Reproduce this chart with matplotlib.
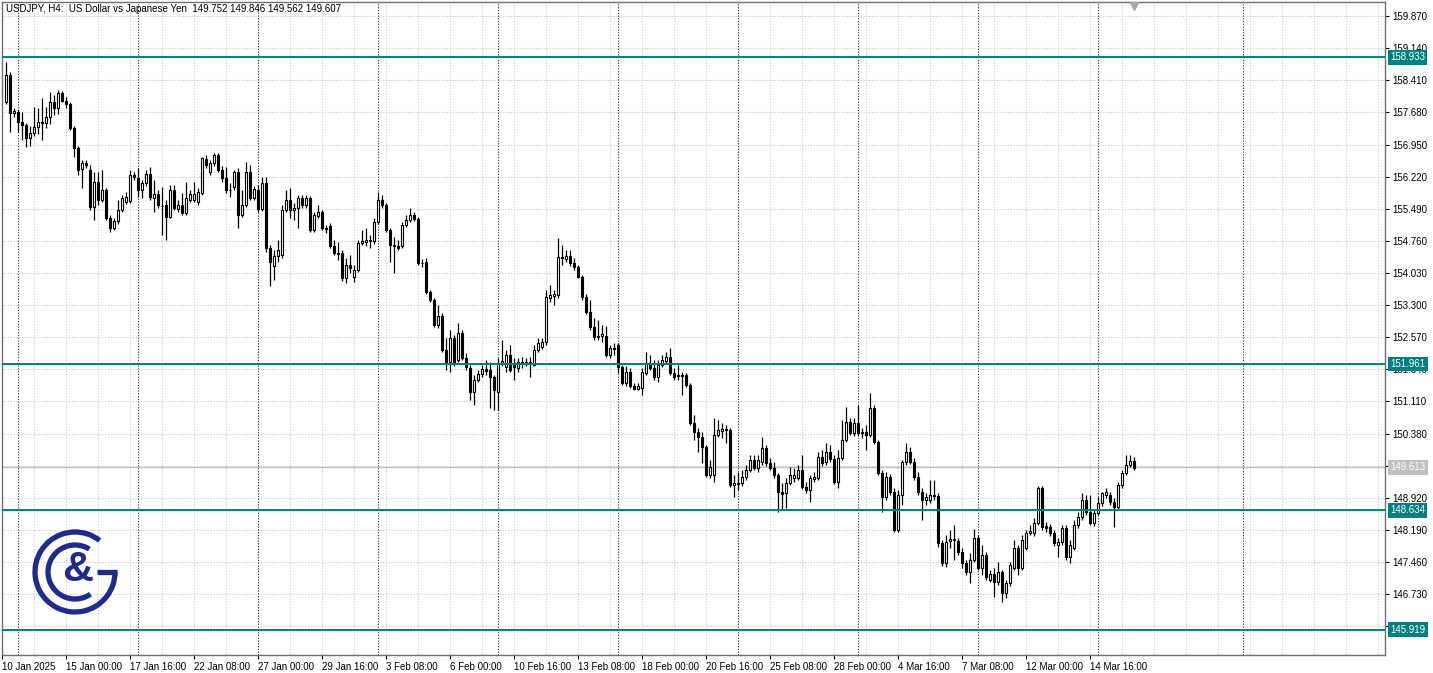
import numpy as np
import matplotlib.pyplot as plt
from matplotlib.patches import Rectangle, Arc

plt.rcParams['font.family'] = ['Liberation Sans', 'DejaVu Sans']

# USDJPY H4 candles, 10 Jan 2025 12:00 onwards
opens = [
    157.92, 158.53, 157.66, 157.69, 157.46, 157.39, 157.10, 157.21, 157.35, 157.46,
    157.44, 157.58, 157.92, 157.78, 158.12, 157.94, 157.87, 157.32, 156.87, 156.39,
    156.53, 156.37, 155.53, 156.10, 155.69, 155.92, 155.28, 155.05, 155.21, 155.46,
    155.64, 155.66, 156.26, 156.19, 155.92, 156.07, 156.28, 155.73, 155.82, 155.55,
    155.57, 155.30, 155.92, 155.48, 155.57, 155.39, 155.69, 155.69, 155.64, 155.85,
    156.62, 156.32, 156.53, 156.71, 156.37, 156.19, 155.92, 155.98, 156.32, 155.35,
    155.57, 156.32, 155.73, 155.92, 155.48, 156.07, 154.60, 154.19, 154.41, 154.44,
    155.46, 155.69, 155.46, 155.51, 155.73, 155.57, 155.73, 155.01, 155.32, 155.41,
    155.05, 155.10, 154.64, 154.48, 154.48, 153.91, 154.21, 153.94, 154.10, 154.71,
    154.73, 154.78, 154.76, 155.19, 155.69, 155.57, 155.01, 154.67, 154.64, 154.64,
    155.12, 155.23, 155.35, 155.26, 154.26, 154.28, 153.60, 153.41, 152.85, 153.05,
    152.28, 152.00, 152.55, 152.05, 152.66, 152.10, 151.87, 151.32, 151.60, 151.73,
    151.85, 151.82, 151.66, 151.32, 151.98, 151.89, 152.16, 151.98, 151.87, 152.00,
    151.98, 152.00, 151.94, 152.28, 152.35, 152.46, 153.46, 153.51, 153.53, 154.39,
    154.35, 154.41, 154.26, 154.17, 153.94, 153.48, 153.14, 152.80, 152.57, 152.60,
    152.60, 152.16, 152.32, 152.39, 151.89, 151.53, 151.78, 151.46, 151.39, 151.41,
    151.75, 151.98, 151.87, 151.66, 151.94, 152.03, 152.12, 151.75, 151.69, 151.71,
    151.71, 151.48, 150.62, 150.41, 150.30, 150.07, 149.44, 149.44, 150.35, 150.44,
    150.48, 150.46, 149.21, 149.25, 149.25, 149.39, 149.55, 149.78, 149.60, 149.73,
    150.05, 149.71, 149.60, 149.44, 149.05, 149.03, 149.25, 149.37, 149.37, 149.55,
    149.16, 149.10, 149.35, 149.37, 149.85, 149.73, 149.96, 149.80, 149.28, 149.82,
    150.23, 150.64, 150.39, 150.62, 150.39, 150.41, 150.35, 150.96, 150.19, 149.48,
    148.94, 149.39, 149.05, 148.19, 148.98, 149.73, 149.96, 149.73, 149.39, 149.05,
    148.87, 148.87, 148.98, 148.96, 147.89, 147.44, 147.94, 147.96, 147.94, 147.69,
    147.44, 147.23, 147.50, 148.00, 147.32, 147.62, 147.05, 147.19, 147.00, 147.23,
    146.75, 146.98, 147.32, 147.78, 147.32, 147.78, 148.12, 148.12, 148.35, 149.14,
    148.28, 148.25, 148.12, 147.85, 147.91, 148.23, 147.57, 147.78, 148.30, 148.48,
    148.87, 148.60, 148.35, 148.57, 148.80, 148.98, 148.98, 148.82, 148.71, 149.21,
    149.48, 149.66, 149.752,
]
highs = [
    158.82, 158.60, 157.78, 157.73, 157.69, 157.44, 157.37, 157.80, 157.78, 158.01,
    157.80, 158.14, 158.07, 158.19, 158.17, 158.03, 157.92, 157.37, 156.92, 156.60,
    156.60, 156.48, 156.32, 156.32, 156.37, 155.96, 155.35, 155.28, 155.69, 155.80,
    155.87, 156.37, 156.32, 156.42, 156.14, 156.37, 156.44, 156.14, 155.92, 155.98,
    155.69, 156.03, 156.03, 155.69, 155.85, 156.10, 155.92, 156.10, 155.96, 156.67,
    156.71, 156.60, 156.76, 156.76, 156.46, 156.44, 156.07, 156.37, 156.42, 155.92,
    156.55, 156.48, 156.01, 156.03, 156.21, 156.21, 154.67, 154.55, 154.78, 155.57,
    155.92, 155.96, 155.62, 155.80, 155.80, 155.80, 155.78, 155.41, 155.57, 155.46,
    155.12, 155.17, 154.78, 154.73, 154.55, 154.37, 154.44, 154.21, 154.78, 155.01,
    155.05, 154.89, 155.28, 155.87, 155.80, 155.62, 155.05, 154.85, 154.78, 155.19,
    155.35, 155.51, 155.41, 155.30, 154.35, 154.37, 153.64, 153.46, 153.30, 153.12,
    152.55, 152.73, 152.62, 152.89, 152.73, 152.21, 151.94, 151.71, 151.82, 151.94,
    152.05, 152.00, 151.71, 152.10, 152.50, 152.28, 152.39, 152.10, 152.10, 152.12,
    152.10, 152.12, 152.39, 152.55, 152.55, 153.64, 153.76, 153.64, 154.82, 154.66,
    154.55, 154.55, 154.37, 154.21, 153.98, 153.55, 153.41, 153.00, 152.96, 152.85,
    152.82, 152.39, 152.44, 152.44, 151.94, 151.91, 151.87, 151.53, 151.53, 151.87,
    152.23, 152.16, 152.05, 152.05, 152.16, 152.23, 152.32, 151.87, 151.94, 151.78,
    151.75, 151.53, 150.80, 150.50, 150.41, 150.12, 149.78, 150.73, 150.69, 150.62,
    150.57, 150.50, 149.44, 149.50, 149.55, 149.66, 149.89, 149.89, 149.89, 150.30,
    150.12, 149.82, 149.73, 149.48, 149.25, 149.37, 149.62, 149.60, 149.66, 149.89,
    149.28, 149.44, 149.50, 149.96, 150.00, 150.16, 150.12, 149.89, 150.00, 150.69,
    150.98, 150.73, 150.73, 151.03, 150.50, 150.57, 151.30, 151.03, 150.23, 149.55,
    149.50, 149.46, 149.14, 149.10, 149.78, 150.16, 150.07, 149.82, 149.50, 149.14,
    149.03, 149.32, 149.32, 149.03, 147.96, 148.07, 148.19, 148.30, 148.00, 147.78,
    147.50, 147.66, 148.21, 148.07, 147.85, 147.69, 147.28, 147.32, 147.46, 147.28,
    147.05, 147.46, 147.96, 147.85, 148.07, 148.19, 148.30, 148.46, 149.19, 149.19,
    148.37, 148.32, 148.19, 148.00, 148.30, 148.30, 147.96, 148.41, 148.60, 149.03,
    148.98, 148.98, 148.64, 148.94, 149.05, 149.14, 149.05, 148.91, 149.28, 149.55,
    149.89, 149.89, 149.846,
]
lows = [
    157.87, 157.23, 157.58, 157.23, 157.05, 156.89, 156.92, 157.14, 157.19, 157.05,
    157.32, 157.41, 157.62, 157.64, 157.92, 157.78, 157.28, 156.67, 156.26, 155.96,
    156.41, 155.46, 155.23, 155.57, 155.64, 155.23, 154.96, 155.01, 155.14, 155.41,
    155.60, 155.62, 156.14, 155.76, 155.73, 156.01, 155.69, 155.41, 155.51, 154.89,
    154.78, 155.28, 155.46, 155.41, 155.35, 155.35, 155.64, 155.64, 155.57, 155.80,
    156.41, 156.26, 156.46, 156.32, 156.10, 155.85, 155.76, 155.92, 155.05, 155.30,
    155.53, 155.69, 155.69, 155.41, 155.44, 154.51, 153.73, 153.87, 154.28, 154.37,
    155.41, 155.28, 155.23, 155.05, 155.51, 155.51, 154.96, 154.96, 155.28, 155.01,
    154.94, 154.60, 154.44, 154.32, 153.85, 153.80, 154.03, 153.82, 154.05, 154.67,
    154.64, 154.60, 154.69, 155.14, 155.51, 154.96, 154.28, 154.03, 154.55, 154.60,
    155.07, 155.19, 155.21, 154.21, 154.16, 153.55, 153.37, 152.80, 152.78, 152.23,
    151.82, 151.78, 151.91, 152.00, 152.05, 151.82, 151.14, 151.03, 151.55, 151.66,
    151.71, 150.96, 150.91, 150.91, 151.91, 151.78, 151.78, 151.60, 151.78, 151.87,
    151.91, 151.66, 151.91, 152.23, 152.30, 152.39, 153.37, 153.30, 153.46, 154.21,
    154.28, 154.19, 154.10, 153.91, 153.41, 153.10, 152.73, 152.50, 152.50, 152.46,
    152.12, 152.10, 152.16, 151.75, 151.48, 151.46, 151.41, 151.37, 151.37, 151.25,
    151.71, 151.82, 151.60, 151.55, 151.89, 151.98, 151.71, 151.60, 151.60, 151.25,
    151.44, 150.57, 150.23, 149.96, 149.71, 149.39, 149.37, 149.28, 150.30, 150.28,
    150.16, 149.16, 148.94, 149.10, 149.19, 149.32, 149.50, 149.55, 149.50, 149.66,
    149.64, 149.55, 149.37, 148.60, 148.64, 148.69, 149.21, 149.28, 149.32, 149.12,
    149.03, 148.82, 149.28, 149.32, 149.64, 149.66, 149.73, 149.23, 149.14, 149.78,
    150.19, 150.35, 150.32, 150.32, 150.28, 150.00, 150.30, 150.14, 149.44, 148.60,
    148.87, 148.98, 148.14, 148.14, 148.75, 149.66, 149.69, 149.32, 148.98, 148.41,
    148.75, 148.80, 148.87, 147.80, 147.37, 147.35, 147.78, 147.50, 147.62, 147.32,
    147.16, 146.98, 147.46, 147.28, 147.16, 147.05, 147.00, 146.66, 146.94, 146.55,
    146.64, 146.91, 147.28, 147.16, 147.28, 147.73, 148.07, 148.05, 148.30, 148.19,
    148.14, 148.05, 147.82, 147.57, 147.85, 147.50, 147.43, 147.73, 148.23, 148.41,
    148.53, 148.30, 148.28, 148.53, 148.73, 148.91, 148.75, 148.25, 148.64, 149.14,
    149.44, 149.62, 149.562,
]
closes = [
    158.53, 157.66, 157.71, 157.46, 157.39, 157.10, 157.21, 157.35, 157.46, 157.44,
    157.58, 157.92, 157.78, 158.12, 157.94, 157.87, 157.32, 156.87, 156.37, 156.53,
    156.48, 155.53, 156.10, 155.69, 155.92, 155.28, 155.05, 155.21, 155.46, 155.73,
    155.76, 156.26, 156.21, 155.92, 156.07, 156.28, 155.76, 155.82, 155.57, 155.55,
    155.30, 155.92, 155.51, 155.57, 155.39, 155.73, 155.82, 155.82, 155.87, 156.64,
    156.48, 156.53, 156.71, 156.37, 156.19, 155.92, 155.91, 156.32, 155.35, 155.57,
    156.32, 155.73, 155.94, 155.48, 156.07, 154.60, 154.28, 154.41, 154.55, 155.46,
    155.69, 155.46, 155.51, 155.73, 155.57, 155.73, 155.01, 155.35, 155.41, 155.05,
    155.03, 154.64, 154.48, 154.46, 153.91, 154.21, 154.14, 154.10, 154.71, 154.76,
    154.78, 154.76, 155.19, 155.69, 155.57, 155.01, 154.67, 154.64, 154.60, 155.12,
    155.23, 155.35, 155.26, 154.26, 154.25, 153.60, 153.41, 152.85, 153.05, 152.28,
    152.00, 152.55, 151.98, 152.66, 152.10, 151.89, 151.32, 151.60, 151.73, 151.85,
    151.80, 151.66, 151.37, 151.98, 152.03, 152.16, 151.82, 151.89, 152.00, 151.98,
    152.01, 151.96, 152.28, 152.44, 152.46, 153.48, 153.53, 153.55, 154.39, 154.37,
    154.41, 154.26, 154.17, 153.94, 153.48, 153.14, 152.80, 152.57, 152.60, 152.64,
    152.16, 152.32, 152.31, 151.89, 151.53, 151.78, 151.46, 151.39, 151.46, 151.78,
    151.98, 151.87, 151.66, 151.94, 152.05, 152.12, 151.75, 151.66, 151.71, 151.69,
    151.48, 150.62, 150.41, 150.30, 150.07, 149.44, 149.62, 150.35, 150.46, 150.48,
    150.46, 149.21, 149.25, 149.24, 149.39, 149.55, 149.78, 149.60, 149.78, 150.05,
    149.71, 149.60, 149.44, 149.05, 149.00, 149.25, 149.44, 149.44, 149.55, 149.16,
    149.10, 149.37, 149.39, 149.85, 149.71, 149.96, 149.80, 149.28, 149.82, 150.23,
    150.64, 150.39, 150.62, 150.39, 150.41, 150.35, 150.96, 150.19, 149.48, 148.94,
    149.39, 149.05, 148.19, 148.98, 149.73, 149.96, 149.73, 149.39, 149.05, 148.87,
    148.94, 148.98, 148.96, 147.89, 147.44, 147.91, 147.98, 147.98, 147.69, 147.44,
    147.23, 147.50, 148.00, 147.32, 147.62, 147.12, 147.19, 147.00, 147.23, 146.75,
    146.98, 147.39, 147.78, 147.32, 147.96, 148.12, 148.16, 148.35, 149.14, 148.25,
    148.23, 148.12, 147.89, 147.91, 148.23, 147.57, 147.85, 148.30, 148.48, 148.87,
    148.60, 148.35, 148.57, 148.80, 149.03, 149.05, 148.82, 148.71, 149.21, 149.48,
    149.66, 149.75, 149.607,
]

# horizontal levels drawn on the chart
level_lines = [158.933, 151.961, 148.634, 145.919]
bid_price = 149.613

price_ticks = [146.000, 146.730, 147.460, 148.190, 148.920, 149.650, 150.380,
               151.110, 151.840, 152.570, 153.300, 154.030, 154.760, 155.490,
               156.220, 156.950, 157.680, 158.410, 159.140, 159.870]

time_labels = ["10 Jan 2025", "15 Jan 00:00", "17 Jan 16:00", "22 Jan 08:00",
               "27 Jan 00:00", "29 Jan 16:00", "3 Feb 08:00", "6 Feb 00:00",
               "10 Feb 16:00", "13 Feb 08:00", "18 Feb 00:00", "20 Feb 16:00",
               "25 Feb 08:00", "28 Feb 00:00", "4 Mar 16:00", "7 Mar 08:00",
               "12 Mar 00:00", "14 Mar 16:00"]
time_label_bars = [-1, 15, 31, 47, 63, 79, 95, 111, 127, 143, 159, 175, 191,
                   207, 223, 239, 255, 271]
week_start_bars = [3, 33, 63, 93, 123, 153, 183, 213, 243, 273, 309.25]

title = "USDJPY, H4:  US Dollar vs Japanese Yen  149.752 149.846 149.562 149.607"

TEAL = '#008080'
NAVY = '#1F2A8C'
W, H = 1433, 673

fig = plt.figure(figsize=(W / 100, H / 100), dpi=100)
ax = fig.add_axes([2 / W, 18 / H, 1383 / W, 653 / H])
ax.set_xlim(-1, 344.75)
ax.set_ylim(145.345, 160.19)

# grid: light dotted every 8 bars / every price tick, darker weekly separators
for gx in np.arange(-1, 345, 8):
    ax.axvline(gx, color='#C8C8C8', lw=0.8, ls=(0, (1, 1.5)), zorder=0.5)
for gy in price_ticks:
    ax.axhline(gy, color='#C8C8C8', lw=0.8, ls=(0, (1, 1.5)), zorder=0.5)
for sx in week_start_bars:
    ax.axvline(sx, color='#303030', lw=0.8, ls=(0, (1, 1.5)), zorder=0.6)

ax.axhline(bid_price, color='#C0C0C0', lw=1.0, zorder=0.8)

# candles
for i in range(len(closes)):
    o, h, l, c = opens[i], highs[i], lows[i], closes[i]
    ax.vlines(i, l, h, color='black', lw=0.9, zorder=2)
    up = c >= o
    ax.add_patch(Rectangle((i - 0.25, min(o, c)), 0.5, abs(c - o),
                           facecolor='white' if up else 'black',
                           edgecolor='black', lw=0.8, zorder=3))

# support / resistance levels with price tags
for lv in level_lines:
    ax.axhline(lv, color=TEAL, lw=1.4, zorder=4)
    ax.annotate(f"{lv:.3f}", xy=(1, lv), xycoords=('axes fraction', 'data'),
                xytext=(5, 0), textcoords='offset pixels', ha='left', va='center',
                color='white', fontsize=7, zorder=6, annotation_clip=False,
                bbox=dict(boxstyle='square,pad=0.25', fc=TEAL, ec='none'))
ax.annotate(f"{bid_price:.3f}", xy=(1, bid_price), xycoords=('axes fraction', 'data'),
            xytext=(5, 0), textcoords='offset pixels', ha='left', va='center',
            color='white', fontsize=7, zorder=6, annotation_clip=False,
            bbox=dict(boxstyle='square,pad=0.25', fc='#C0C0C0', ec='none'))

# chart shift marker above the last bar
ax.plot([len(closes) - 1], [160.10], marker='v', ms=6, color='#A8A8A8',
        clip_on=False, zorder=5)

# axes
ax.yaxis.tick_right()
ax.set_yticks(price_ticks)
ax.set_yticklabels([f"{p:.3f}" for p in price_ticks])
ax.set_xticks(time_label_bars)
ax.set_xticklabels(time_labels)
for t in ax.get_xticklabels():
    t.set_horizontalalignment('left')
ax.tick_params(axis='y', direction='out', length=3, pad=2, labelsize=7, color='black')
ax.tick_params(axis='x', direction='out', length=3, pad=2, labelsize=7, color='black')
for sp in ax.spines.values():
    sp.set_color('#707070')
    sp.set_linewidth(1.0)

fig.text(6 / W, 1 - 9 / H, title, fontsize=7, va='center', ha='left')

# logo (bottom-left)
lax = fig.add_axes([0, 0, 1, 1])
lax.set_xlim(0, W)
lax.set_ylim(0, H)
lax.axis('off')
cx, cy = 75, H - 572
lax.add_patch(Arc((cx, cy), 80, 80, theta1=52, theta2=360, color=NAVY, lw=3.8))
lax.plot([cx + 22, cx + 42], [cy, cy], color=NAVY, lw=3.8, solid_capstyle='butt')
lax.add_patch(Arc((cx, cy), 54, 54, theta1=58, theta2=305, color=NAVY, lw=3.8))
lax.text(cx + 3, cy + 2, '&', fontsize=31, fontweight='bold', color=NAVY,
         ha='center', va='center', family='Liberation Sans')

fig.savefig('out.png', dpi=100)
